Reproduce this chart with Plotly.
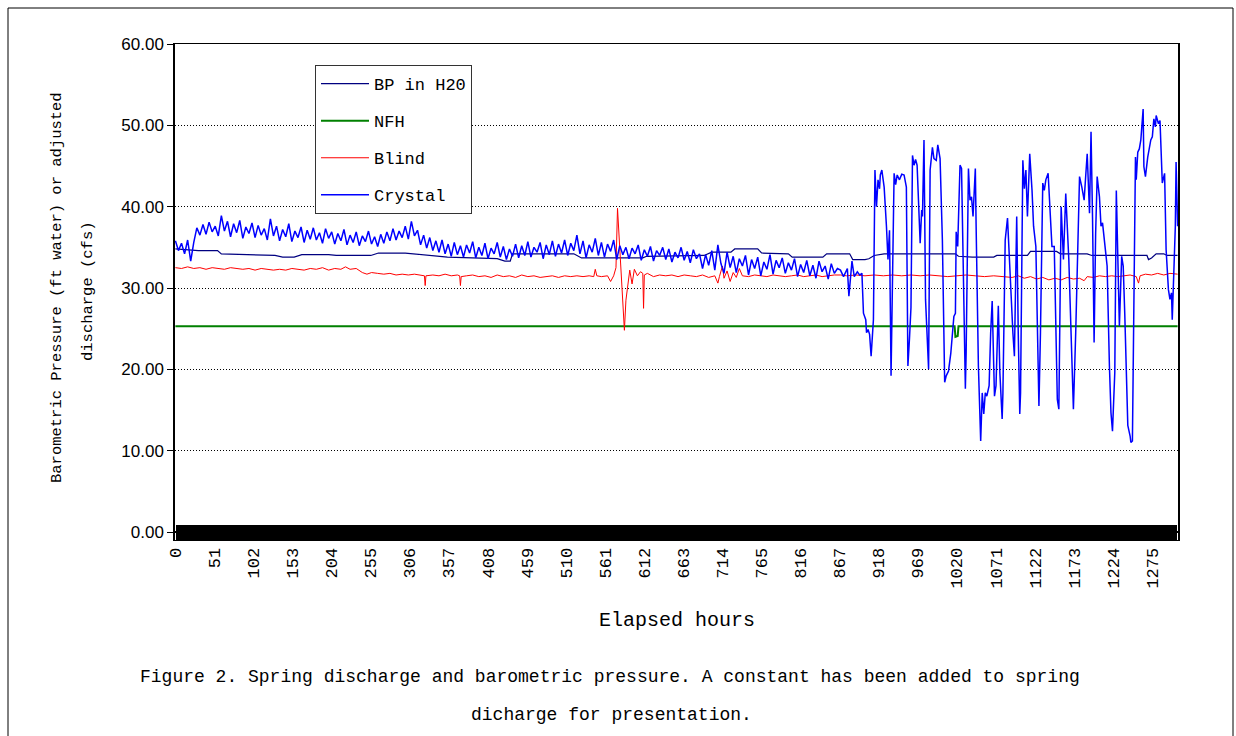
import plotly.graph_objects as go

# ---------------- data ----------------
N_HOURS = 1309  # categories 0..1308

crystal_left_hours = list(range(0, 868, 4))
crystal_left_vals = [
    35.8, 34.6, 35.5, 34.2, 35.9, 33.3, 35.6, 37.4, 36.5, 37.8, 36.6, 38.1, 36.9, 37.6, 36.4, 38.9,
    37.0, 38.2, 36.3, 37.9, 36.8, 38.3, 36.1, 37.5, 36.7, 38.0, 36.2, 37.7, 36.5, 37.3, 35.9, 38.5,
    36.4, 37.6, 35.8, 37.2, 36.3, 37.9, 35.7, 37.0, 36.2, 37.5, 35.6, 37.1, 36.0, 37.4, 35.9, 36.8,
    35.5, 37.3, 36.1, 36.9, 35.4, 36.7, 35.8, 37.2, 35.3, 36.5, 35.6, 36.9, 35.2, 36.4, 35.7, 37.0,
    35.4, 36.3, 35.1, 36.6, 35.5, 36.9, 35.8, 37.3, 35.9, 37.0, 36.2, 37.6, 36.0, 38.2, 36.4, 37.1,
    35.3, 36.5, 34.9, 36.2, 34.6, 35.8, 34.4, 35.9, 34.2, 35.4, 33.9, 35.6, 34.1, 35.2, 33.8, 35.3,
    34.3, 35.7, 33.7, 35.0, 34.0, 35.5, 33.6, 34.9, 34.2, 35.6, 33.8, 35.1, 33.5, 34.8, 33.9, 35.4,
    33.7, 35.2, 34.0, 35.7, 33.8, 35.0, 34.4, 35.6, 33.6, 35.3, 34.1, 35.8, 33.9, 35.4, 34.3, 35.9,
    34.0, 35.5, 34.6, 36.5, 34.2, 35.8, 33.7, 35.3, 34.4, 36.1, 34.0, 35.6, 33.8, 35.4, 34.5, 35.9,
    33.5, 35.2, 34.1, 35.0, 33.6, 34.9, 34.2, 35.3, 33.4, 34.7, 33.9, 35.1, 33.3, 34.6, 34.0, 35.0,
    33.5, 34.8, 33.2, 34.4, 33.7, 35.0, 33.4, 34.5, 33.1, 34.7, 33.6, 34.2, 32.4, 34.1, 32.8, 34.6,
    32.2, 35.3, 33.0, 31.8, 34.4, 32.5, 33.9, 31.9, 33.6, 32.7, 34.0, 31.6, 33.5, 32.4, 33.8, 31.5,
    33.2, 32.3, 34.1, 31.7, 33.4, 32.5, 33.7, 31.8, 33.1, 32.2, 33.6, 31.4, 32.9, 31.9, 33.4, 31.5,
    32.8, 31.2, 33.3, 32.0, 32.7, 31.1, 33.0, 31.8, 32.4,
]

crystal_right_hours = [
    868, 872, 877, 879, 881, 883, 886, 890, 893, 896, 898, 901, 902, 904, 906, 908, 911, 913, 915, 917,
    919, 920, 922, 925, 928, 930, 932, 934, 938, 940, 942, 945, 948, 951, 954, 956, 958, 960, 962, 964,
    966, 968, 972, 974, 975, 977, 979, 983, 985, 988, 990, 993, 995, 998, 1001, 1004, 1006, 1009, 1012, 1016,
    1018, 1019, 1021, 1024, 1026, 1028, 1031, 1032, 1035, 1037, 1039, 1041, 1044, 1045, 1048, 1051, 1053, 1055, 1057, 1059,
    1062, 1064, 1066, 1068, 1069, 1071, 1074, 1076, 1079, 1080, 1083, 1086, 1088, 1090, 1092, 1093, 1095, 1098, 1100, 1102,
    1103, 1106, 1108, 1110, 1112, 1115, 1118, 1120, 1123, 1125, 1127, 1129, 1132, 1134, 1136, 1139, 1141, 1144, 1147, 1151,
    1153, 1155, 1156, 1159, 1162, 1166, 1169, 1172, 1175, 1178, 1180, 1183, 1186, 1188, 1190, 1193, 1195, 1197, 1199, 1201,
    1203, 1206, 1208, 1210, 1213, 1216, 1219, 1221, 1223, 1226, 1228, 1230, 1232, 1235, 1237, 1239, 1241, 1243, 1246, 1247,
    1249, 1251, 1253, 1254, 1256, 1258, 1260, 1263, 1264, 1266, 1269, 1273, 1275, 1277, 1279, 1280, 1283, 1285, 1286, 1288,
    1291, 1293, 1296, 1298, 1300, 1301, 1303, 1305, 1306, 1308,
]
crystal_right_vals = [
    32.2, 31.4, 32.4, 29.0, 31.8, 33.3, 31.4, 32.0, 31.6, 31.8, 26.9, 26.1, 24.5, 24.9, 24.3, 21.6, 26.1, 44.5, 40.0, 43.3,
    42.2, 43.9, 44.5, 42.4, 37.6, 33.5, 37.1, 19.2, 44.1, 42.7, 43.9, 43.3, 44.0, 43.9, 42.4, 20.4, 23.7, 27.6, 46.3, 45.1,
    45.8, 45.1, 35.5, 39.6, 38.8, 48.2, 28.6, 20.0, 44.5, 47.3, 45.9, 45.7, 47.6, 45.9, 35.9, 18.4, 19.2, 19.8, 22.0, 26.5,
    26.9, 36.9, 35.1, 45.1, 44.7, 32.7, 17.6, 22.0, 44.7, 40.8, 41.2, 38.8, 44.7, 37.8, 20.4, 11.2, 17.1, 14.5, 17.1, 16.7,
    18.0, 24.5, 28.4, 20.4, 16.7, 18.0, 27.8, 19.6, 13.9, 17.1, 35.9, 38.6, 34.3, 30.2, 27.3, 24.5, 21.6, 38.8, 24.5, 14.5,
    17.1, 45.7, 42.2, 44.5, 38.8, 46.5, 42.0, 37.6, 35.1, 24.5, 15.5, 24.5, 42.9, 42.0, 43.3, 44.1, 40.8, 35.1, 35.1, 16.3,
    15.1, 37.6, 40.0, 33.5, 41.6, 33.5, 22.9, 15.1, 24.5, 35.5, 43.7, 42.4, 40.8, 43.7, 46.5, 39.2, 49.2, 38.4, 23.3, 36.7,
    43.7, 41.2, 37.6, 38.0, 34.9, 32.7, 20.4, 14.7, 12.4, 19.6, 42.0, 33.5, 25.3, 33.9, 32.7, 26.9, 18.4, 13.1, 11.8, 11.0,
    11.2, 32.7, 46.1, 43.3, 46.7, 47.1, 48.2, 52.0, 44.9, 43.7, 46.1, 48.2, 48.6, 50.8, 49.8, 51.2, 50.2, 50.6, 47.3, 42.9,
    44.1, 34.7, 29.8, 28.6, 29.4, 26.1, 31.8, 37.6, 45.5, 37.6,
]

bp_hours = [0, 30, 55, 60, 130, 140, 155, 165, 200, 210, 255, 265, 300, 330, 355, 420, 430, 437, 440, 520,
            530, 610, 615, 690, 700, 725, 730, 760, 765, 800, 805, 845, 850, 880, 884, 900, 905, 912, 925, 1018,
            1022, 1040, 1068, 1072, 1112, 1116, 1150, 1155, 1190, 1196, 1268, 1270, 1274, 1280, 1290, 1294, 1308]
bp_vals = [34.8, 34.6, 34.6, 34.2, 34.0, 33.8, 33.8, 34.1, 34.1, 34.0, 34.0, 34.3, 34.3, 34.0, 33.8, 33.6, 33.3, 33.3, 34.2, 34.2,
           33.7, 33.7, 33.9, 34.0, 34.4, 34.4, 34.8, 34.8, 34.3, 34.2, 33.8, 33.8, 34.2, 34.2, 33.5, 33.5, 33.6, 34.0, 34.2, 34.2,
           33.9, 33.8, 33.8, 34.0, 34.0, 34.5, 34.5, 34.2, 34.2, 34.0, 34.0, 33.5, 33.7, 34.2, 34.2, 34.0, 34.0]

nfh_hours = [0, 1017, 1018, 1021, 1022, 1308]
nfh_vals = [25.3, 25.3, 24.0, 24.1, 25.3, 25.3]

blind_hours = [
    0, 8, 16, 24, 32, 40, 48, 56, 64, 72, 80, 88, 96, 104, 112, 120, 128, 136, 144, 152,
    160, 168, 176, 184, 192, 200, 208, 216, 222, 228, 236, 244, 250, 256, 264, 272, 280, 288, 296, 304,
    312, 320, 325, 326, 327, 336, 344, 352, 360, 368, 371, 372, 373, 380, 388, 396, 404, 412, 420, 428,
    436, 444, 452, 460, 468, 476, 484, 492, 500, 508, 516, 524, 532, 540, 546, 548, 550, 556, 564, 568,
    572, 575, 577, 579, 581, 584, 586, 588, 591, 593, 596, 599, 603, 607, 610, 611, 612, 616, 624, 632,
    640, 648, 656, 664, 672, 680, 688, 696, 704, 708, 710, 714, 716, 720, 724, 728, 732, 736, 740, 748,
    756, 764, 772, 780, 788, 796, 804, 812, 820, 828, 836, 844, 852, 860, 868, 876, 888, 900, 912, 924,
    936, 948, 960, 972, 984, 996, 1008, 1020, 1032, 1044, 1056, 1068, 1080, 1092, 1100, 1108, 1116, 1124, 1132, 1140,
    1148, 1156, 1164, 1172, 1180, 1186, 1190, 1198, 1206, 1214, 1222, 1230, 1238, 1246, 1254, 1257, 1259, 1266, 1274, 1282,
    1290, 1298, 1308,
]
blind_vals = [
    32.5, 32.4, 32.6, 32.4, 32.5, 32.3, 32.5, 32.4, 32.3, 32.5, 32.4, 32.3, 32.4, 32.2, 32.4, 32.3, 32.2, 32.3, 32.2, 32.4,
    32.3, 32.2, 32.4, 32.3, 32.5, 32.2, 32.4, 32.3, 32.6, 32.3, 32.4, 31.9, 31.7, 31.9, 31.8, 31.7, 31.8, 31.6, 31.7, 31.6,
    31.7, 31.6, 31.5, 30.3, 31.5, 31.6, 31.5, 31.7, 31.5, 31.6, 31.5, 30.3, 31.4, 31.5, 31.6, 31.4, 31.5, 31.3, 31.6, 31.4,
    31.5, 31.3, 31.6, 31.4, 31.5, 31.3, 31.4, 31.5, 31.3, 31.5, 31.4, 31.5, 31.4, 31.5, 31.4, 32.3, 31.5, 31.4, 31.5, 30.8,
    31.5, 32.5, 39.8, 36.5, 32.0, 27.5, 24.8, 28.5, 31.0, 32.2, 30.5, 32.3, 31.5, 32.0, 31.8, 27.5, 31.6, 31.8, 31.4, 31.6,
    31.5, 31.6, 31.4, 31.6, 31.5, 31.4, 31.6, 31.3, 31.5, 30.6, 31.4, 32.7, 31.2, 32.1, 30.8, 31.9, 31.3, 32.4, 31.5, 31.4,
    31.6, 31.5, 31.4, 31.6, 31.5, 31.4, 31.5, 31.6, 31.4, 31.5, 31.6, 31.4, 31.5, 31.6, 31.6, 31.5, 31.6, 31.5, 31.6, 31.5,
    31.6, 31.5, 31.6, 31.5, 31.6, 31.5, 31.4, 31.5, 31.6, 31.5, 31.4, 31.5, 31.4, 31.3, 31.5, 31.2, 31.4, 31.1, 31.3, 31.0,
    31.2, 31.0, 31.3, 31.1, 31.2, 30.9, 31.4, 31.3, 31.5, 31.4, 31.5, 31.4, 31.5, 31.6, 31.4, 30.6, 31.5, 31.7, 31.6, 31.8,
    31.6, 31.8, 31.7,
]

crystal_hours = crystal_left_hours + crystal_right_hours
crystal_vals = crystal_left_vals + crystal_right_vals

x_tick_step = 51
y_ticks = [0, 10, 20, 30, 40, 50, 60]

# ---------------- figure ----------------
MONO = "Liberation Mono"
PLOT_TOP, ZERO_Y, PLOT_BOTTOM = 44, 532, 540   # pixel layout of the plot box
px_per_unit = (ZERO_Y - PLOT_TOP) / 60.0
y_min = -(PLOT_BOTTOM - ZERO_Y) / px_per_unit  # room below 0 for the crossing tick band
H = PLOT_BOTTOM - PLOT_TOP
W = 1003


def py(pix):
    return (PLOT_BOTTOM - pix) / H


def pxf(pix):
    return (pix - 175) / W


fig = go.Figure()
fig.add_trace(go.Scatter(x=bp_hours, y=bp_vals, name="BP in H20", mode="lines",
                         line=dict(color="#000080", width=1.2), legendgroup="a"))
fig.add_trace(go.Scatter(x=nfh_hours, y=nfh_vals, name="NFH", mode="lines",
                         line=dict(color="#008000", width=2), legendgroup="b"))
fig.add_trace(go.Scatter(x=blind_hours, y=blind_vals, name="Blind", mode="lines",
                         line=dict(color="#FF0000", width=1), legendgroup="c"))
fig.add_trace(go.Scatter(x=crystal_hours, y=crystal_vals, name="Crystal", mode="lines",
                         line=dict(color="#0000FF", width=1.5), legendgroup="d"))

xrange = [-0.5, N_HOURS - 0.5]

# Category tick marks, one per hour, split over two overlay axes (< 1000 ticks each)
layout_axes = {}
for name, t0 in (("xaxis2", 0), ("xaxis3", 1)):
    ref = "x" + name[5:]
    fig.add_trace(go.Scatter(x=[0, N_HOURS - 1], y=[None, None], xaxis=ref, showlegend=False,
                             hoverinfo="skip", mode="lines"))
    layout_axes[name] = dict(range=xrange, overlaying="x", side="bottom", anchor="y",
                             tickmode="linear", tick0=t0, dtick=2,
                             ticks="inside", ticklen=15, tickcolor="black",
                             tickwidth=1, showticklabels=False, showgrid=False,
                             zeroline=False, showline=False)

fig.update_layout(
    width=1236, height=736,
    margin=dict(l=175, r=58, t=PLOT_TOP, b=736 - PLOT_BOTTOM),
    paper_bgcolor="white", plot_bgcolor="white",
    showlegend=True,
    legend=dict(x=pxf(315), y=py(65), xanchor="left", yanchor="top",
                bgcolor="white", bordercolor="#333333", borderwidth=1,
                font=dict(family=MONO, size=17, color="black"),
                tracegroupgap=12, traceorder="grouped", itemwidth=48),
    xaxis=dict(range=xrange, tickmode="linear", tick0=0, dtick=x_tick_step,
               tickangle=-90, ticks="inside", ticklen=15, tickcolor="black", tickwidth=1,
               showgrid=False, zeroline=False, showline=True, linecolor="black", linewidth=1,
               mirror=True, tickfont=dict(family=MONO, size=17, color="black")),
    yaxis=dict(range=[y_min, 60], tickmode="array", tickvals=y_ticks, tickformat=".2f",
               ticks="outside", ticklen=6, tickcolor="black",
               showgrid=True, gridcolor="black", griddash="1px,2px", gridwidth=1,
               zeroline=True, zerolinecolor="black", zerolinewidth=1.5,
               showline=True, linecolor="black", linewidth=1.5, mirror=True,
               tickfont=dict(family="Liberation Sans", size=17, color="black")),
    annotations=[
        dict(text="Barometric Pressure (ft water) or adjusted", textangle=-90, xref="paper", yref="paper",
             x=pxf(57), y=py(288), xanchor="center", yanchor="middle", showarrow=False,
             font=dict(family=MONO, size=15.5, color="black")),
        dict(text="discharge (cfs)", textangle=-90, xref="paper", yref="paper",
             x=pxf(88), y=py(291), xanchor="center", yanchor="middle", showarrow=False,
             font=dict(family=MONO, size=15.5, color="black")),
        dict(text="Elapsed hours", xref="paper", yref="paper", x=pxf(677), y=py(620),
             xanchor="center", yanchor="middle", showarrow=False,
             font=dict(family=MONO, size=20, color="black")),
        dict(text="Figure 2. Spring discharge and barometric pressure. A constant has been added to spring",
             xref="paper", yref="paper", x=pxf(610), y=py(677),
             xanchor="center", yanchor="middle", showarrow=False,
             font=dict(family=MONO, size=18, color="black")),
        dict(text="dicharge for presentation.", xref="paper", yref="paper", x=pxf(611),
             y=py(715), xanchor="center", yanchor="middle", showarrow=False,
             font=dict(family=MONO, size=18, color="black")),
    ],
    shapes=[
        dict(type="rect", xref="paper", yref="paper",
             x0=pxf(8), x1=pxf(1233), y0=py(760), y1=py(8),
             line=dict(color="black", width=1), fillcolor="rgba(0,0,0,0)", layer="below"),
    ],
    **layout_axes,
)

fig.write_html("out.html")
